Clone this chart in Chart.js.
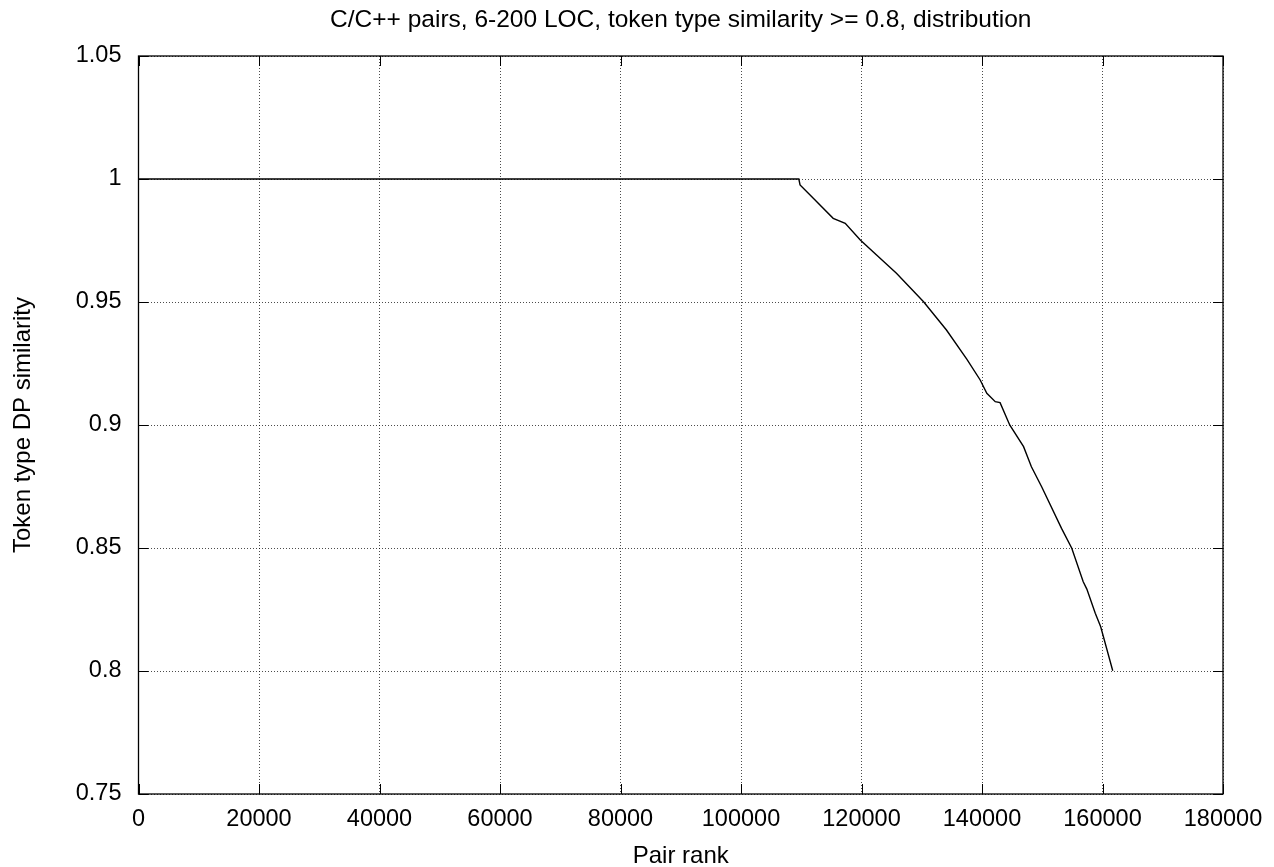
<!DOCTYPE html>
<html>
<head>
<meta charset="utf-8">
<script src="https://cdn.jsdelivr.net/npm/chart.js@4.4.1/dist/chart.umd.min.js"></script>
<style>
  html, body { margin: 0; padding: 0; background: #fff; }
  #wrap { width: 1274px; height: 867px; }
</style>
</head>
<body>
<div id="wrap"><canvas id="dist"></canvas></div>
<script>
// pair rank vs. token type DP similarity (sorted descending)
const pairRank = [0, 20000, 60000, 100000, 109600, 109800, 112000, 115300, 117300, 119800,
  122500, 125800, 130300, 134100, 137500, 139700, 140800, 142200, 143000, 144600,
  146900, 148200, 149900, 153200, 154900, 156800, 157400, 158800, 159700, 161700];
const similarity = [1, 1, 1, 1, 1, 0.9976, 0.9922, 0.984, 0.982, 0.9752,
  0.9691, 0.9617, 0.9501, 0.9386, 0.9267, 0.9183, 0.9129, 0.9095, 0.9091, 0.9,
  0.8912, 0.883, 0.8749, 0.858, 0.8499, 0.8363, 0.8333, 0.8235, 0.818, 0.8001];

const xMin = 0, xMax = 180000, xStep = 20000;
const yMin = 0.75, yMax = 1.05, yStep = 0.05;

const points = pairRank.map((r, i) => ({ x: r, y: similarity[i] }));

const FONT = '"Liberation Sans", Arial, Helvetica, sans-serif';

// solid frame with short inward ticks on all four sides
const framePlugin = {
  id: 'frame',
  afterDraw(chart) {
    const { ctx, chartArea: a, scales } = chart;
    const len = 10;
    ctx.save();
    ctx.strokeStyle = '#000';
    ctx.lineWidth = 1.3;
    ctx.strokeRect(a.left, a.top, a.right - a.left, a.bottom - a.top);
    ctx.lineWidth = 1;
    ctx.beginPath();
    scales.x.ticks.forEach(t => {
      const px = Math.round(scales.x.getPixelForValue(t.value)) + 0.5;
      ctx.moveTo(px, a.bottom); ctx.lineTo(px, a.bottom - len);
      ctx.moveTo(px, a.top); ctx.lineTo(px, a.top + len);
    });
    scales.y.ticks.forEach(t => {
      const py = Math.round(scales.y.getPixelForValue(t.value)) + 0.5;
      ctx.moveTo(a.left, py); ctx.lineTo(a.left + len, py);
      ctx.moveTo(a.right, py); ctx.lineTo(a.right - len, py);
    });
    ctx.stroke();
    ctx.restore();
  }
};

const gridStyle = {
  color: 'rgba(0,0,0,0.7)',
  lineWidth: 1,
  drawTicks: false,
  tickLength: 0
};

new Chart(document.getElementById('dist'), {
  type: 'line',
  data: {
    datasets: [{
      data: points,
      borderColor: '#000',
      borderWidth: 1.4,
      pointRadius: 0,
      fill: false,
      tension: 0
    }]
  },
  options: {
    responsive: true,
    maintainAspectRatio: false,
    animation: false,
    layout: { padding: { left: 0, right: 51, top: 0, bottom: 0 } },
    plugins: {
      legend: { display: false },
      tooltip: { enabled: false },
      title: {
        display: true,
        fullSize: false,
        text: 'C/C++ pairs, 6-200 LOC, token type similarity >= 0.8, distribution',
        color: '#000',
        font: { family: FONT, size: 24.5, weight: 'normal' },
        padding: { top: 6, bottom: 20.6 }
      }
    },
    scales: {
      x: {
        type: 'linear',
        min: xMin,
        max: xMax,
        grid: gridStyle,
        border: { display: false, dash: [1, 2] },
        ticks: {
          stepSize: xStep,
          color: '#000',
          padding: 11,
          maxRotation: 0,
          font: { family: FONT, size: 23.5 },
          callback: v => String(v)
        },
        title: {
          display: true,
          text: 'Pair rank',
          color: '#000',
          font: { family: FONT, size: 24 },
          padding: { top: 0, bottom: -4 }
        },
        afterFit: s => { s.height = 73; }
      },
      y: {
        min: yMin,
        max: yMax,
        grid: gridStyle,
        border: { display: false, dash: [1, 2] },
        ticks: {
          stepSize: yStep,
          color: '#000',
          padding: 17,
          font: { family: FONT, size: 23.5 },
          callback: v => String(+v.toFixed(2))
        },
        title: {
          display: true,
          text: 'Token type DP similarity',
          color: '#000',
          font: { family: FONT, size: 24 },
          padding: { top: 9, bottom: 0 }
        },
        afterFit: s => { s.width = 138.5; }
      }
    }
  },
  plugins: [framePlugin]
});
</script>
</body>
</html>
